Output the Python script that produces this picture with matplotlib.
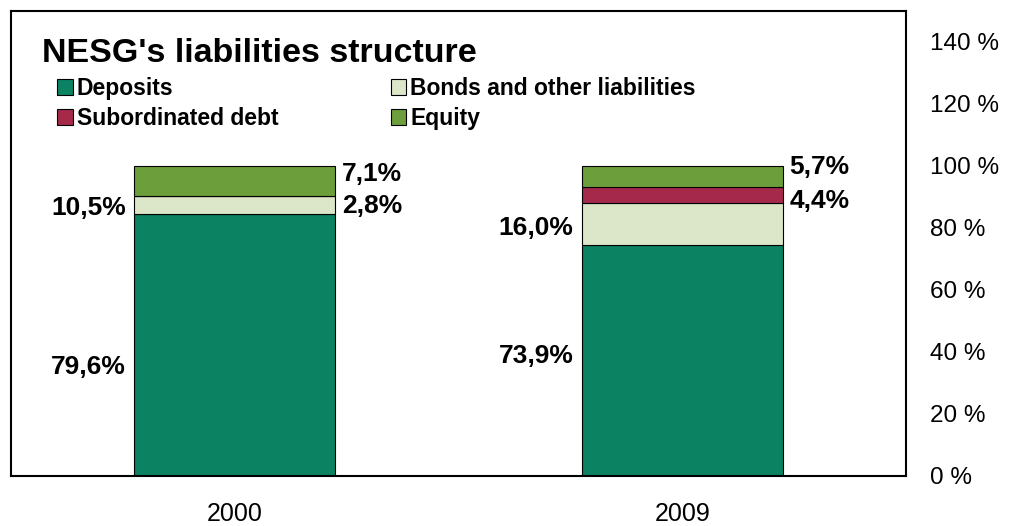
import matplotlib
matplotlib.use("Agg")
import matplotlib.pyplot as plt
from matplotlib.ticker import FuncFormatter

plt.rcParams['font.family'] = ['Liberation Sans', 'DejaVu Sans']

# ---- data ----
years = ["2000", "2009"]
series = ["Deposits", "Bonds and other liabilities", "Subordinated debt", "Equity"]
deposits = [84.5, 74.5]
bonds = [5.8, 13.5]
subordinated = [0.0, 5.3]
equity = [9.7, 6.7]
colors = ["#0B8262", "#DCE6C8", "#A5294A", "#6C9E3C"]

# printed value labels (as shown in the chart)
left_labels = [["79,6%", "10,5%"], ["73,9%", "16,0%"]]
right_labels = [["7,1%", "2,8%"], ["5,7%", "4,4%"]]

yticks = [0, 20, 40, 60, 80, 100, 120, 140]

# label vertical placements (layout, in axis % units)
left_pos = [[35.0, 86.4], [38.6, 79.9]]
right_pos = [[97.4, 87.0], [99.6, 88.6]]

# ---- figure ----
W, H = 1021, 526
fig = plt.figure(figsize=(W / 100, H / 100), dpi=100)
ax = fig.add_axes([11 / W, (H - 476) / H, (906 - 11) / W, (476 - 11) / H])

x = list(range(len(years)))
width = 0.45
bottom = [0.0] * len(years)
bars = []
for vals, name, c in zip([deposits, bonds, subordinated, equity], series, colors):
    b = ax.bar(x, vals, width, bottom=bottom, color=c, edgecolor="black",
               linewidth=0.8, label=name)
    bars.append(b)
    bottom = [bb + v for bb, v in zip(bottom, vals)]

ax.set_xlim(-0.5, 1.5)
ax.set_ylim(0, 150)
ax.set_yticks(yticks)
ax.yaxis.set_major_formatter(FuncFormatter(lambda v, p: f"{int(v)} %"))
ax.yaxis.tick_right()
ax.tick_params(axis="y", length=0, pad=17, labelsize=17.5)
ax.set_xticks(x)
ax.set_xticklabels(years)
ax.tick_params(axis="x", length=0, pad=19, labelsize=18)
for s in ax.spines.values():
    s.set_linewidth(1.5)
    s.set_color("black")

# value labels
lab_kw = dict(fontsize=19, fontweight="bold", va="center")
for i in range(len(years)):
    xl = x[i] - width / 2 - 0.018
    xr = x[i] + width / 2 + 0.015
    for lab, yy in zip(left_labels[i], left_pos[i]):
        ax.text(xl, yy, lab, ha="right", **lab_kw)
    for lab, yy in zip(right_labels[i], right_pos[i]):
        ax.text(xr, yy, lab, ha="left", **lab_kw)

# title
fig.text(42 / W, 1 - 62 / H, "NESG's liabilities structure", fontsize=24.5,
         fontweight="bold", va="baseline", ha="left")

# legend
handles = [bars[0], bars[2], bars[1], bars[3]]
labels = [series[0], series[2], series[1], series[3]]
leg = ax.legend(handles, labels, ncol=2, loc="upper left",
                bbox_to_anchor=(57 / W, 1 - 77 / H), bbox_transform=fig.transFigure,
                frameon=False, prop={'weight': 'bold', 'size': 16.5},
                handlelength=0.68, handleheight=0.68, handletextpad=0.18,
                columnspacing=4.9, labelspacing=0.32, borderpad=0, borderaxespad=0)
for h in leg.legend_handles:
    h.set_linewidth(0.8)

fig.savefig("out.png", dpi=100)
